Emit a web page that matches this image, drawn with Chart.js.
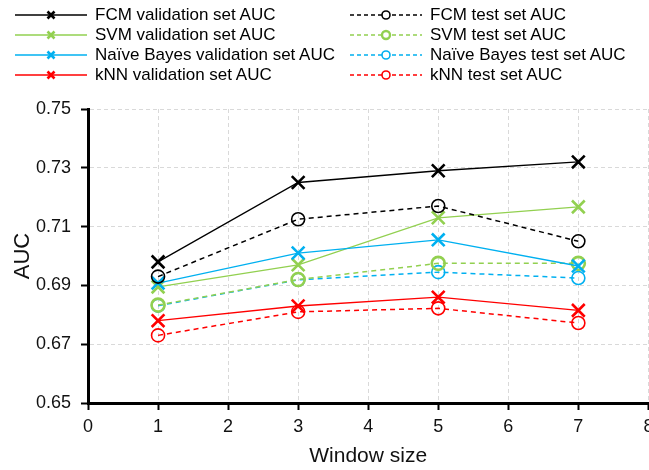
<!DOCTYPE html>
<html>
<head>
<meta charset="utf-8">
<script src="https://cdn.jsdelivr.net/npm/chart.js@4"></script>
<style>
    html, body { margin: 0; padding: 0; background: #fff; overflow: hidden; }
    #wrap { position: relative; width: 660px; height: 470px; }
    #legend { position: absolute; left: 0; top: 0; width: 649px; height: 100px; font-family: 'Liberation Sans', Arial, sans-serif; font-size: 17px; color: #000; }
    .item { position: absolute; height: 20px; line-height: 20px; white-space: nowrap; }
    .item svg { position: absolute; top: 0; }
    .item span { position: absolute; top: 0; }
</style>
</head>
<body>
<div id="wrap">
    <canvas id="chart"></canvas>
    <div id="legend"></div>
</div>
<script>
// Window sizes (x) and AUC values
const windowSizes = [1, 3, 5, 7];
const fcmVal  = [0.698, 0.725, 0.729, 0.732];
const fcmTest = [0.693, 0.7125, 0.717, 0.705];
const svmVal  = [0.6895, 0.697, 0.713, 0.7167];
const svmTest = [0.6833, 0.692, 0.6975, 0.6975];
const nbVal   = [0.6908, 0.701, 0.7055, 0.6966];
const nbTest  = [0.6831, 0.6919, 0.6945, 0.6925];
const knnVal  = [0.678, 0.683, 0.686, 0.6815];
const knnTest = [0.673, 0.681, 0.6822, 0.6772];

const seriesLabels = [
    'FCM validation set AUC', 'FCM test set AUC',
    'SVM validation set AUC', 'SVM test set AUC',
    'Naïve Bayes validation set AUC', 'Naïve Bayes test set AUC',
    'kNN validation set AUC', 'kNN test set AUC'
];
const yTicks = [0.65, 0.67, 0.69, 0.71, 0.73, 0.75];
const xTicks = [0, 1, 2, 3, 4, 5, 6, 7, 8];

const BLACK = '#000000', GREEN = '#92d050', BLUE = '#00b0f0', RED = '#ff0000';
const FONT = "'Liberation Sans', Arial, sans-serif";

const toPoints = vals => vals.map((v, i) => ({ x: windowSizes[i], y: v }));

function valSet(label, vals, color, order) {
    return {
        label, data: toPoints(vals), order,
        borderColor: color, borderWidth: 1.3,
        pointStyle: 'crossRot', pointRadius: 9, pointBorderWidth: 2.6,
        pointBorderColor: color, pointBackgroundColor: color,
        isTest: false
    };
}
function testSet(label, vals, color, order, bw) {
    return {
        label, data: toPoints(vals), order,
        borderColor: color, borderWidth: 1.5, borderDash: [5, 4],
        pointStyle: 'circle', pointRadius: 6.5, pointBorderWidth: bw || 1.6,
        pointBorderColor: color, pointBackgroundColor: 'rgba(0,0,0,0)',
        isTest: true
    };
}

const datasets = [
    valSet(seriesLabels[0], fcmVal, BLACK, 0),
    testSet(seriesLabels[1], fcmTest, BLACK, 1),
    valSet(seriesLabels[2], svmVal, GREEN, 4),
    testSet(seriesLabels[3], svmTest, GREEN, 3, 2.6),
    valSet(seriesLabels[4], nbVal, BLUE, 2),
    testSet(seriesLabels[5], nbTest, BLUE, 5),
    valSet(seriesLabels[6], knnVal, RED, 6),
    testSet(seriesLabels[7], knnTest, RED, 7)
];

const gridCommon = {
    color: '#d9d9d9', lineWidth: 1,
    drawTicks: true, tickLength: 7, tickColor: '#000', tickWidth: 2, tickBorderDash: []
};
const borderCommon = { color: '#000', width: 3, dash: [4, 3] };

new Chart(document.getElementById('chart'), {
    type: 'line',
    data: { datasets },
    options: {
        responsive: true,
        maintainAspectRatio: false,
        animation: false,
        layout: { padding: { top: 109, left: 0, right: 0, bottom: 0 } },
        plugins: { legend: { display: false }, tooltip: { enabled: false } },
        scales: {
            x: {
                type: 'linear', min: 0, max: 8,
                afterBuildTicks: s => { s.ticks = xTicks.map(v => ({ value: v })); },
                afterFit: s => { s.height = 67; },
                ticks: { color: '#111', font: { family: FONT, size: 18 }, padding: 6, maxRotation: 0 },
                grid: gridCommon,
                border: borderCommon,
                title: { display: true, text: 'Window size', color: '#111', font: { family: FONT, size: 21 }, padding: { top: 0, bottom: 1 } }
            },
            y: {
                type: 'linear', min: 0.65, max: 0.75,
                afterBuildTicks: s => { s.ticks = yTicks.map(v => ({ value: v })); },
                afterFit: s => { s.width = 88; },
                ticks: { color: '#111', font: { family: FONT, size: 18 }, padding: 10, callback: v => v.toFixed(2) },
                grid: gridCommon,
                border: borderCommon,
                title: { display: true, text: 'AUC', color: '#111', font: { family: FONT, size: 22 }, padding: { top: 10, bottom: 0 } }
            }
        }
    }
});

// HTML legend in two columns: validation sets left, test sets right
const legend = document.getElementById('legend');
const rowY = [15, 35, 55, 75];
datasets.forEach((ds, i) => {
    const row = Math.floor(i / 2);
    const col = i % 2;
    const lineX0 = col ? 350 : 15, lineX1 = col ? 422 : 87, markX = col ? 386 : 51, textX = col ? 430 : 95;
    const item = document.createElement('div');
    item.className = 'item';
    item.style.left = '0px';
    item.style.top = (rowY[row] - 10) + 'px';
    const c = ds.borderColor;
    let mark;
    if (ds.isTest) {
        mark = `<circle cx="${markX}" cy="10" r="4" fill="#fff" stroke="${c}" stroke-width="${ds.pointBorderWidth > 2 ? 2.4 : 1.6}"/>`;
    } else {
        const d = 3.5;
        mark = `<path d="M${markX - d} ${10 - d}L${markX + d} ${10 + d}M${markX - d} ${10 + d}L${markX + d} ${10 - d}" stroke="${c}" stroke-width="2.6"/>`;
    }
    const dash = ds.isTest ? 'stroke-dasharray="4 3"' : '';
    item.innerHTML = `<svg width="${lineX1 + 2}" height="20"><line x1="${lineX0}" y1="10" x2="${lineX1}" y2="10" stroke="${c}" stroke-width="1.5" ${dash}/>${mark}</svg>` +
        `<span style="left:${textX}px">${ds.label}</span>`;
    legend.appendChild(item);
});
</script>
</body>
</html>
